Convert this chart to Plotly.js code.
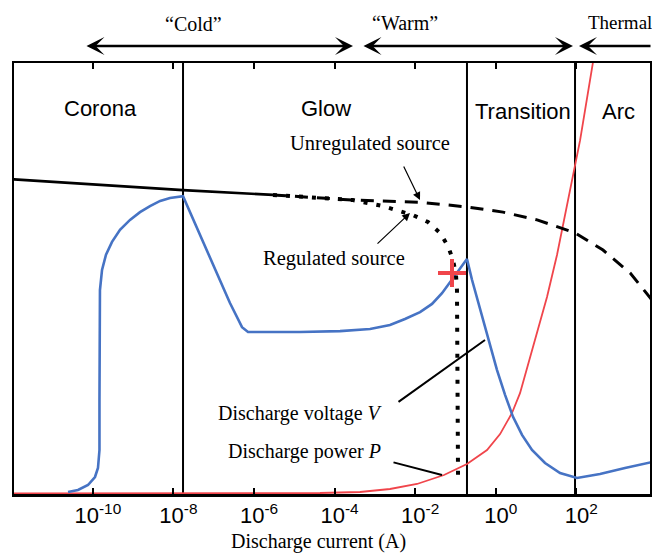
<!DOCTYPE html>
<html><head><meta charset="utf-8">
<script src="https://cdn.plot.ly/plotly-3.0.1.min.js"></script>
<style>html,body{margin:0;padding:0;background:#fff}#chart{width:652px;height:553px}</style>
</head><body><div id="chart"></div>
<script>
// Axis ticks
const tickVals = [1e-10, 1e-8, 1e-6, 1e-4, 1e-2, 1e0, 1e2];
const tickLabels = ['10<sup>-10</sup>','10<sup>-8</sup>','10<sup>-6</sup>','10<sup>-4</sup>','10<sup>-2</sup>','10<sup>0</sup>','10<sup>2</sup>'];

// Regime boundaries (A) and names
const regionNames = ['Corona', 'Glow', 'Transition', 'Arc'];
const regionBounds = [1.73e-8, 0.193, 92.7];

// Discharge voltage V (relative units) vs current (A)
const voltageI = [2.42e-11, 4.28e-11, 7.59e-11, 1.13e-10, 1.34e-10, 1.46e-10, 1.46e-10, 1.46e-10, 1.50e-10, 1.50e-10,
  1.69e-10, 2.12e-10, 2.99e-10, 4.72e-10, 8.36e-10, 1.48e-9, 2.62e-9, 4.68e-9, 8.22e-9, 1.73e-8,
  2.53e-7, 3.57e-7, 5.04e-7, 7.10e-7, 1.38e-5, 1.36e-4, 7.57e-4, 2.37e-3, 5.58e-3, 0.0132,
  0.0262, 0.0463, 0.0820, 0.129, 0.193, 0.257, 0.343, 0.482, 0.719, 1.07,
  1.70, 2.68, 4.48, 7.93, 16.7, 39.4, 104, 386, 1611, 7550];
const voltageV = [0.46, 0.93, 2.09, 3.94, 6.03, 10.2, 21.8, 38.1, 45.0, 47.3,
  52.0, 55.5, 58.5, 61.3, 63.6, 65.4, 66.8, 68.0, 68.7, 69.1,
  44.3, 41.3, 38.7, 37.6, 37.6, 37.8, 38.3, 39.2, 40.6, 42.2,
  44.1, 46.6, 49.7, 52.2, 54.5, 49.7, 45.5, 40.4, 34.1, 28.8,
  23.0, 17.9, 13.7, 10.2, 7.19, 4.87, 3.71, 4.64, 6.03, 7.42];

// Discharge power P (relative units)
const powerI = [1.1e-12, 4.35e-5, 4.27e-4, 2.37e-3, 0.0111, 0.0519, 0.193, 0.607, 1.28, 2.53,
  4.00, 5.97, 10.6, 18.7, 33.2, 62.2, 124, 259, 386];
const powerP = [0.12, 0.23, 0.46, 1.16, 2.32, 4.41, 6.96, 10.2, 13.9, 18.8,
  23.4, 29.2, 37.4, 45.7, 55.5, 68.2, 82.1, 100.2, 109];

// Source load line (common part)
const sourceI = [1.1e-12, 1.73e-8, 2.96e-6];
const sourceV = [73.0, 70.5, 69.4];

// Unregulated source
const unregI = [2.96e-6, 4.35e-5, 2.86e-4, 0.0132, 0.193, 1.51, 10.6, 92.7, 459, 2148, 7550];
const unregV = [69.4, 68.7, 68.2, 67.7, 66.6, 65.4, 63.6, 60.6, 56.6, 51.3, 45.0];

// Regulated source
const regI = [2.96e-6, 4.35e-5, 2.86e-4, 1.59e-3, 4.20e-3, 8.83e-3, 0.0208, 0.0413, 0.0653, 0.0869, 0.103, 0.109, 0.116];
const regV = [69.4, 68.7, 68.2, 66.8, 65.7, 64.7, 63.1, 60.6, 57.5, 54.3, 50.8, 47.3, 2.78];

// Operating point
const opI = [0.082];
const opV = [51.3];

const black = '#000000';
const blue = '#4673c4';
const red = '#f0454b';

const boundX = [], boundY = [];
regionBounds.forEach(b => { boundX.push(b, b, null); boundY.push(0, 100, null); });

const traces = [
  {x: boundX, y: boundY, mode: 'lines', line: {color: black, width: 2}, hoverinfo: 'skip'},
  {x: powerI, y: powerP, mode: 'lines', name: 'Discharge power P', line: {color: red, width: 1.8}},
  {x: voltageI, y: voltageV, mode: 'lines', name: 'Discharge voltage V', line: {color: blue, width: 2.6}},
  {x: sourceI, y: sourceV, mode: 'lines', line: {color: black, width: 2.6}},
  {x: unregI, y: unregV, mode: 'lines', name: 'Unregulated source', line: {color: black, width: 3, dash: '13px,9px'}},
  {x: regI, y: regV, mode: 'lines', name: 'Regulated source', line: {color: black, width: 4, dash: '4px,9px'}},
  {x: opI, y: opV, mode: 'markers', marker: {symbol: 'cross-thin', size: 20, color: red, line: {color: red, width: 4}}}
];

const sans = 'Liberation Sans, Arial, sans-serif';
const serif = 'Liberation Serif, Times New Roman, serif';
const px = v => (v - 14) / 636;
const py = v => (494 - v) / 431;

function txt(text, x, y, font, size, extra) {
  return Object.assign({text: text, xref: 'paper', yref: 'paper', x: px(x), y: py(y), showarrow: false,
    xanchor: 'center', yanchor: 'middle', font: {family: font, size: size, color: '#000'}}, extra || {});
}
function arr(x, y, ax, ay, opts) {
  return Object.assign({text: '', xref: 'paper', yref: 'paper', x: px(x), y: py(y), ax: ax, ay: ay,
    axref: 'pixel', ayref: 'pixel', showarrow: true, arrowcolor: '#000', standoff: 0, startstandoff: 0}, opts);
}

const regionX = [100, 326, 523, 618];
const annotations = [
  txt(regionNames[0], regionX[0], 109, sans, 22),
  txt(regionNames[1], regionX[1], 109, sans, 22),
  txt(regionNames[2], regionX[2], 111, sans, 22),
  txt(regionNames[3], regionX[3], 111, sans, 22),
  txt('\u201CCold\u201D', 193, 24, serif, 20),
  txt('\u201CWarm\u201D', 405, 23, serif, 20),
  txt('Thermal', 586, 23, serif, 19, {xanchor: 'left'}),
  txt('Unregulated source', 370, 144, serif, 20.5),
  txt('Regulated source', 334, 258, serif, 20.5),
  txt('Discharge voltage <i>V</i>', 300, 413, serif, 20),
  txt('Discharge power <i>P</i>', 304, 451, serif, 20),
  txt('Discharge current (A)', 318, 541, serif, 20),
  arr(353, 46, -268, 0, {arrowhead: 3, startarrowhead: 3, arrowside: 'end+start', arrowwidth: 2.5, arrowsize: 1.2, startarrowsize: 1.2}),
  arr(573, 46, -211, 0, {arrowhead: 3, startarrowhead: 3, arrowside: 'end+start', arrowwidth: 2.5, arrowsize: 1.2, startarrowsize: 1.2}),
  arr(579, 46, 80, 0, {arrowhead: 3, arrowwidth: 2.5, arrowsize: 1.2}),
  arr(420, 200, -17, -35, {arrowhead: 2, arrowwidth: 1.2, arrowsize: 1.3}),
  arr(410, 213, -34, 32, {arrowhead: 2, arrowwidth: 1.2, arrowsize: 1.3}),
  arr(485, 340, -88, 63, {arrowhead: 0, arrowwidth: 2}),
  arr(442, 475, -50, -13, {arrowhead: 0, arrowwidth: 2})
];

const layout = {
  width: 652, height: 553,
  margin: {l: 14, r: 2, t: 63, b: 59, pad: 0},
  paper_bgcolor: '#ffffff', plot_bgcolor: '#ffffff',
  showlegend: false,
  xaxis: {type: 'log', range: [-11.957, 3.828], tickvals: tickVals, ticktext: tickLabels,
    ticks: 'inside', ticklen: 6, tickwidth: 2, tickcolor: black,
    showline: true, linewidth: 2.5, linecolor: black, mirror: 'ticks',
    showgrid: false, zeroline: false, ticklabelshift: 5,
    tickfont: {family: sans, size: 22, color: black}},
  yaxis: {range: [0, 100], showline: true, mirror: true, linewidth: 2.5, linecolor: black,
    showticklabels: false, ticks: '', showgrid: false, zeroline: false},
  annotations: annotations
};

Plotly.newPlot('chart', traces, layout, {staticPlot: true, displayModeBar: false});
</script>
</body></html>
